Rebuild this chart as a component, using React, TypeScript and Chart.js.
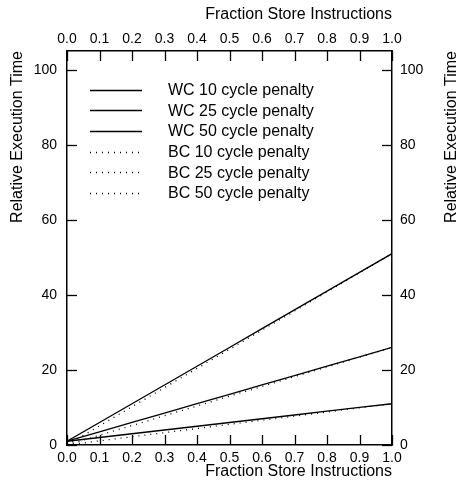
import React, { useEffect, useRef } from "react";
import { Chart, registerables } from "chart.js";

Chart.register(...registerables);

const X_VALUES = [0, 0.1, 0.2, 0.3, 0.4, 0.5, 0.6, 0.7, 0.8, 0.9, 1.0];
const WC_10 = [1, 2, 3, 4, 5, 6, 7, 8, 9, 10, 11];
const WC_25 = [1, 3.5, 6, 8.5, 11, 13.5, 16, 18.5, 21, 23.5, 26];
const WC_50 = [1, 6, 11, 16, 21, 26, 31, 36, 41, 46, 51];
const BC_10 = [0, 1.1, 2.2, 3.3, 4.4, 5.5, 6.6, 7.7, 8.8, 9.9, 11];
const BC_25 = [0, 2.6, 5.2, 7.8, 10.4, 13, 15.6, 18.2, 20.8, 23.4, 26];
const BC_50 = [0, 5.1, 10.2, 15.3, 20.4, 25.5, 30.6, 35.7, 40.8, 45.9, 51];

const SERIES_LABELS = [
  "WC 10 cycle penalty",
  "WC 25 cycle penalty",
  "WC 50 cycle penalty",
  "BC 10 cycle penalty",
  "BC 25 cycle penalty",
  "BC 50 cycle penalty",
];
const SERIES_VALUES = [WC_10, WC_25, WC_50, BC_10, BC_25, BC_50];
const SERIES_DOTTED = [false, false, false, true, true, true];

const X_TITLE = "Fraction Store Instructions";
const Y_TITLE = "Relative Execution Time";

const FONT = "'Liberation Sans', Arial, Helvetica, sans-serif";
const DOT_DASH = [1, 5];

const tickMarks = {
  id: "tickMarks",
  afterDraw(chart: any) {
    const ctx = chart.ctx;
    const a = chart.chartArea;
    const len = 10;
    ctx.save();
    ctx.strokeStyle = "#000";
    ctx.lineWidth = 1.3;
    ["x", "x2"].forEach((id) => {
      const s = chart.scales[id];
      s.ticks.forEach((t: any) => {
        const px = Math.round(s.getPixelForValue(t.value)) + 0.5;
        ctx.beginPath();
        if (id === "x") {
          ctx.moveTo(px, a.bottom);
          ctx.lineTo(px, a.bottom - len);
        } else {
          ctx.moveTo(px, a.top);
          ctx.lineTo(px, a.top + len);
        }
        ctx.stroke();
      });
    });
    ["y", "y2"].forEach((id) => {
      const s = chart.scales[id];
      s.ticks.forEach((t: any) => {
        const py = Math.round(s.getPixelForValue(t.value)) + 0.5;
        ctx.beginPath();
        if (id === "y") {
          ctx.moveTo(a.left, py);
          ctx.lineTo(a.left + len, py);
        } else {
          ctx.moveTo(a.right, py);
          ctx.lineTo(a.right - len, py);
        }
        ctx.stroke();
      });
    });
    // right-hand axis title (reads bottom to top, clipped by canvas edge)
    ctx.fillStyle = "#000";
    ctx.font = `16px ${FONT}`;
    ctx.textBaseline = "middle";
    ctx.textAlign = "right";
    ctx.translate(452, a.top);
    ctx.rotate(-Math.PI / 2);
    ctx.fillText(Y_TITLE, 0, 0);
    ctx.restore();
  },
};

const legendBox = {
  id: "legendBox",
  afterDraw(chart: any) {
    const ctx = chart.ctx;
    const x0 = 90;
    const x1 = 142;
    const tx = 168;
    const y0 = 89.5;
    const dy = 20.7;
    ctx.save();
    ctx.font = `16px ${FONT}`;
    ctx.fillStyle = "#000";
    ctx.textBaseline = "middle";
    ctx.textAlign = "left";
    chart.data.datasets.forEach((ds: any, i: number) => {
      const y = Math.round(y0 + i * dy) + 0.5;
      ctx.beginPath();
      ctx.strokeStyle = "#000";
      ctx.lineWidth = ds.borderWidth;
      ctx.setLineDash(ds.borderDash || []);
      ctx.moveTo(x0, y);
      ctx.lineTo(x1, y);
      ctx.stroke();
      ctx.setLineDash([]);
      ctx.fillText(ds.label, tx, y0 + i * dy + 1);
    });
    ctx.restore();
  },
};

export default function App() {
  const ref = useRef<HTMLCanvasElement>(null);

  useEffect(() => {
    if (!ref.current) return;
    const keep20 = (scale: any) => {
      scale.ticks = scale.ticks.filter((t: any) => Math.abs(t.value % 20) < 1e-6);
    };
    const tickFont = { family: FONT, size: 14 };
    const titleFont = { family: FONT, size: 16 };
    const border = { display: true, color: "#000", width: 1.5 };
    const chart = new Chart(ref.current, {
      type: "line",
      data: {
        datasets: SERIES_LABELS.map((label, i) => ({
          label,
          data: X_VALUES.map((x, j) => ({ x, y: SERIES_VALUES[i][j] })),
          borderColor: "#000",
          backgroundColor: "#000",
          borderWidth: 1.3,
          borderDash: SERIES_DOTTED[i] ? DOT_DASH : [],
          pointRadius: 0,
          tension: 0,
          fill: false,
          xAxisID: "x",
          yAxisID: "y",
        })),
      },
      options: {
        animation: false,
        responsive: false,
        devicePixelRatio: 1,
        layout: { padding: 0 },
        plugins: { legend: { display: false }, tooltip: { enabled: false } },
        scales: {
          x: {
            type: "linear",
            position: "bottom",
            min: 0,
            max: 1,
            grid: { display: false, drawTicks: false },
            border,
            ticks: {
              stepSize: 0.1,
              padding: 5,
              color: "#000",
              font: tickFont,
              maxRotation: 0,
              autoSkip: false,
              callback: (v: any) => Number(v).toFixed(1),
            },
            title: {
              display: true,
              text: X_TITLE,
              align: "end",
              color: "#000",
              font: titleFont,
              padding: { top: 0, bottom: 7 },
            },
            afterFit: (s: any) => {
              s.height = 43;
            },
          },
          x2: {
            type: "linear",
            position: "top",
            min: 0,
            max: 1,
            grid: { display: false, drawTicks: false },
            border,
            ticks: {
              stepSize: 0.1,
              padding: 3,
              color: "#000",
              font: tickFont,
              maxRotation: 0,
              autoSkip: false,
              callback: (v: any) => Number(v).toFixed(1),
            },
            title: {
              display: true,
              text: X_TITLE,
              align: "end",
              color: "#000",
              font: titleFont,
              padding: { top: 4.5, bottom: 0 },
            },
            afterFit: (s: any) => {
              s.height = 51;
            },
          },
          y: {
            type: "linear",
            position: "left",
            min: 0,
            max: 105,
            grid: { display: false, drawTicks: false },
            border,
            ticks: {
              stepSize: 20,
              padding: 10,
              color: "#000",
              font: tickFont,
            },
            afterBuildTicks: keep20,
            title: {
              display: true,
              text: Y_TITLE,
              align: "end",
              color: "#000",
              font: titleFont,
              padding: { top: 7.5, bottom: 0 },
            },
            afterFit: (s: any) => {
              s.width = 67;
            },
          },
          y2: {
            type: "linear",
            position: "right",
            min: 0,
            max: 105,
            grid: { display: false, drawTicks: false },
            border,
            ticks: {
              stepSize: 20,
              padding: 8,
              color: "#000",
              font: tickFont,
            },
            afterBuildTicks: keep20,
            afterFit: (s: any) => {
              s.width = 65;
            },
          },
        },
      },
      plugins: [tickMarks, legendBox],
    } as any);
    return () => chart.destroy();
  }, []);

  return (
    <div
      style={{
        position: "fixed",
        left: 0,
        top: 0,
        width: 457,
        height: 488,
        overflow: "hidden",
        background: "#fff",
      }}
    >
      <canvas ref={ref} width={457} height={488} style={{ display: "block" }} />
    </div>
  );
}
